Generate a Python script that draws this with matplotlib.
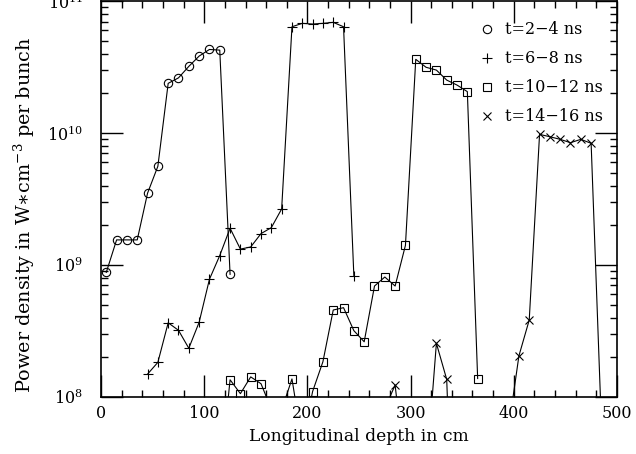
import matplotlib.pyplot as plt
from matplotlib.ticker import LogLocator, MultipleLocator, NullFormatter
from matplotlib.lines import Line2D

plt.rcParams['font.family'] = ['DejaVu Serif']
plt.rcParams['mathtext.fontset'] = 'dejavuserif'
plt.rcParams['mathtext.default'] = 'regular'

# t=2-4 ns (circles)
x1 = [5, 15, 25, 35, 45, 55, 65, 75, 85, 95, 105, 115, 125]
y1 = [8.8e8, 1.55e9, 1.55e9, 1.55e9, 3.5e9, 5.6e9, 2.38e10, 2.62e10,
      3.2e10, 3.83e10, 4.3e10, 4.25e10, 8.5e8]

# t=6-8 ns (plus)
x2 = [45, 55, 65, 75, 85, 95, 105, 115, 125, 135, 145, 155, 165, 175,
      185, 195, 205, 215, 225, 235, 245]
y2 = [1.49e8, 1.83e8, 3.65e8, 3.2e8, 2.34e8, 3.68e8, 7.8e8, 1.18e9,
      1.9e9, 1.32e9, 1.37e9, 1.73e9, 1.92e9, 2.66e9, 6.39e10, 6.78e10,
      6.7e10, 6.78e10, 6.9e10, 6.39e10, 8.26e8]

# t=10-12 ns (squares)
x3 = [115, 125, 135, 145, 155, 165, 175, 185, 195, 205, 215, 225, 235,
      245, 255, 265, 275, 285, 295, 305, 315, 325, 335, 345, 355, 365]
y3 = [2.3e7, 1.35e8, 1.06e8, 1.42e8, 1.26e8, 8.1e7, 8.0e7, 1.37e8, 4.5e7,
      1.1e8, 1.85e8, 4.56e8, 4.75e8, 3.18e8, 2.62e8, 6.93e8, 8.11e8,
      6.93e8, 1.41e9, 3.62e10, 3.15e10, 3.0e10, 2.52e10, 2.31e10, 2.06e10,
      1.38e8]

# t=14-16 ns (crosses)
x4 = [275, 285, 295, 305, 315, 325, 335, 345, 355, 365, 375, 385, 395,
      405, 415, 425, 435, 445, 455, 465, 475, 485]
y4 = [8.2e7, 1.23e8, 2.5e7, 1e7, 2.5e7, 2.55e8, 1.36e8, 1e6, 1e7, 1e7,
      1e7, 1e7, 5.8e7, 2.05e8, 3.83e8, 9.77e9, 9.38e9, 8.96e9, 8.45e9,
      8.96e9, 8.36e9, 6.1e7]

labels = ['t=2\u22124 ns', 't=6\u22128 ns', 't=10\u221212 ns', 't=14\u221216 ns']
markers = ['o', '+', 's', 'x']
sizes = [6, 6.5, 5.5, 5.5]

fig = plt.figure(figsize=(6.36, 4.54), dpi=100)
ax = fig.add_axes([0.159, 0.1256, 0.811, 0.872])

for xs, ys, m, s in zip([x1, x2, x3, x4], [y1, y2, y3, y4], markers, sizes):
    ax.plot(xs, ys, color='black', lw=0.8, marker=m, ms=s,
            mfc='none', mec='black', mew=0.8)

ax.set_yscale('log')
ax.set_xlim(0, 500)
ax.set_ylim(1e8, 1e11)

ax.xaxis.set_major_locator(MultipleLocator(100))
ax.xaxis.set_minor_locator(MultipleLocator(20))
ax.yaxis.set_major_locator(LogLocator(base=10))
ax.yaxis.set_minor_locator(LogLocator(base=10, subs=range(2, 10)))
ax.yaxis.set_minor_formatter(NullFormatter())

ax.tick_params(which='both', direction='in', top=True, right=True,
               labelsize=11.5)
ax.tick_params(axis='x', pad=6)
ax.tick_params(axis='y', pad=13)
ax.tick_params(which='major', length=16, width=1)
ax.tick_params(which='minor', length=5, width=1)
for sp in ax.spines.values():
    sp.set_linewidth(1.2)

ax.set_xlabel('Longitudinal depth in cm', fontsize=12.3)
ax.set_ylabel('Power density in W\u2217cm$^{-3}$ per bunch', fontsize=13.8)
ax.yaxis.set_label_coords(-0.125, 0.46)

handles = [Line2D([], [], color='black', ls='none', marker=m, ms=s,
                  mfc='none', mew=0.8) for m, s in zip(markers, sizes)]
ax.legend(handles, labels, loc='upper right', frameon=False, fontsize=11.5,
          handlelength=0.6, handletextpad=0.8, labelspacing=0.75,
          bbox_to_anchor=(1.0, 0.985))

fig.savefig('out.png', dpi=100)
